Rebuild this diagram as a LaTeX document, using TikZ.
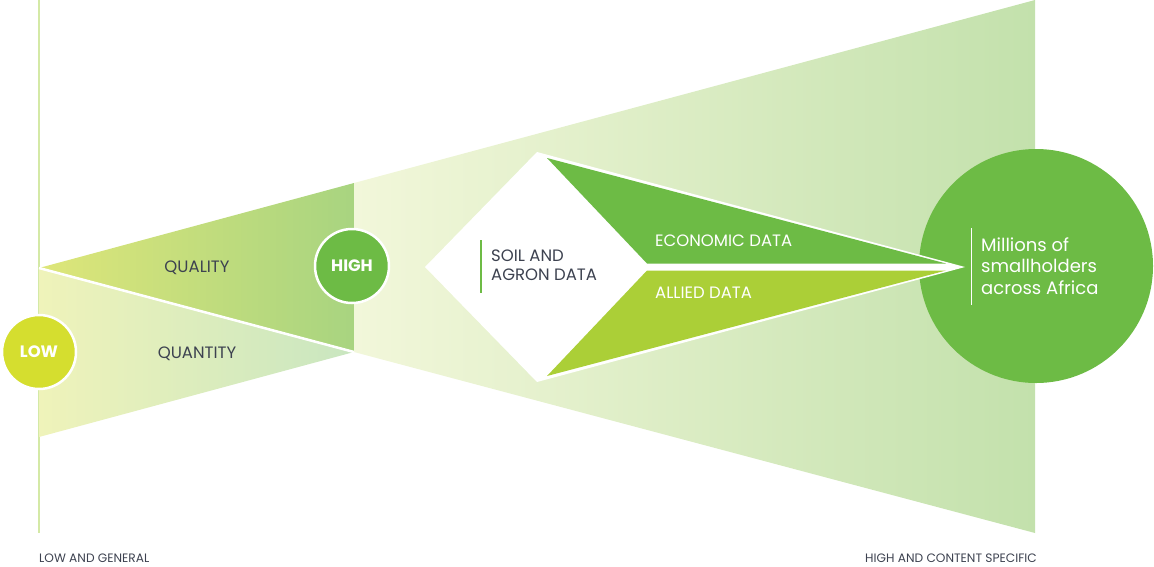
\documentclass[tikz,border=0pt]{standalone}
\usepackage{fontspec}
\setmainfont{Poppins}
\begin{document}
\definecolor{bigL}{HTML}{F2F7DA}
\definecolor{bigR}{HTML}{C3E1AC}
\definecolor{qualL}{HTML}{DEE679}
\definecolor{qualR}{HTML}{A8D480}
\definecolor{quantL}{HTML}{EFF3BA}
\definecolor{quantR}{HTML}{C9E6C0}
\definecolor{axisline}{HTML}{D4E9A6}
\definecolor{lowfill}{HTML}{D5DE2F}
\definecolor{leaf}{HTML}{6DBB45}
\definecolor{lime}{HTML}{ABCF37}
\definecolor{ink}{HTML}{3D4250}
\begin{tikzpicture}[x=1pt,y=-1pt,
  label/.style={font=\fontsize{16.5}{19}\selectfont, text=ink, inner sep=0pt},
  whitelabel/.style={font=\fontsize{16.5}{19}\selectfont, text=white, inner sep=0pt},
  badge/.style={circle, draw=white, line width=2.5pt, minimum size=74pt, inner sep=0pt,
    text=white, font=\fontsize{16.5}{18}\selectfont\bfseries},
  footnote/.style={font=\fontsize{12.2}{14}\selectfont, text=ink, inner sep=0pt, anchor=base west}]
\useasboundingbox (0,0) rectangle (1154,566);
% axis on the left
\draw[axisline, line width=2pt] (39,0) -- (39,533);
% widening funnel
\shade[left color=bigL, right color=bigR] (354,183) -- (1035,0) -- (1035,533) -- (354,352) -- cycle;
% quality and quantity wedges
\shade[left color=qualL, right color=qualR] (39,268) -- (354,183) -- (354,352) -- cycle;
\shade[left color=quantL, right color=quantR] (39,268) -- (354,352) -- (39,437) -- cycle;
\draw[white, line width=2.5pt] (39,268) -- (354,352);
% big target circle
\fill[leaf] (1036,266) circle[radius=117];
% kite with the two data streams
\fill[white] (425,267) -- (537,152) -- (965,267) -- (537,382) -- cycle;
\fill[leaf] (547,158) -- (946,263.5) -- (647,263.5) -- cycle;
\fill[lime] (547,376) -- (946,270.5) -- (647,270.5) -- cycle;
% badges
\node[badge, fill=lowfill] (low) at (39,352) {LOW};
\node[badge, fill=leaf] (high) at (352,266) {HIGH};
% labels
\node[label, anchor=base] (quality) at (197,272) {QUALITY};
\node[label, anchor=base] (quantity) at (197,358) {QUANTITY};
\draw[leaf, line width=1.2pt] (481,240) -- (481,293);
\node[label, anchor=base west, align=left] (soil) at (491,280.5) {SOIL AND\\AGRON DATA};
\node[whitelabel, anchor=base west] (econ) at (655,246) {ECONOMIC DATA};
\node[whitelabel, anchor=base west] (allied) at (655,298) {ALLIED DATA};
\draw[white, line width=0.8pt] (971,228) -- (971,305);
\node[inner sep=0pt, anchor=base west, align=left, text=white,
  font=\fontsize{18}{21.5}\selectfont] (target) at (981,294) {Millions of\\smallholders\\across Africa};
\node[footnote] (lowend) at (39,562) {LOW AND GENERAL};
\node[footnote] (highend) at (865,562) {HIGH AND CONTENT SPECIFIC};
\end{tikzpicture}
\end{document}
